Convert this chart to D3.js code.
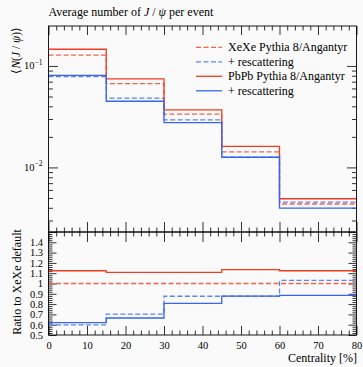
<!DOCTYPE html>
<html><head><meta charset="utf-8">
<script src="https://cdn.jsdelivr.net/npm/d3@7"></script>
<style>
html,body{margin:0;padding:0;background:#fafafa;}
svg{display:block;}
</style></head>
<body>
<svg id="chart" width="363" height="367"></svg>
<script>
// ---- data ----
const binEdges = [0, 15, 30, 45, 60, 80];
const xexeDefault = [0.128, 0.067, 0.0335, 0.0142, 0.00436];
const xexeResc    = [0.0785, 0.0481, 0.0294, 0.0126, 0.00455];
const pbpbDefault = [0.146, 0.0745, 0.0369, 0.0161, 0.00491];
const pbpbResc    = [0.0806, 0.0449, 0.0276, 0.0126, 0.00397];

const ratioXeXeDefault = [1, 1, 1, 1, 1];
const ratioXeXeResc    = [0.598, 0.702, 0.876, 0.876, 1.030];
const ratioPbPbDefault = [1.124, 1.108, 1.108, 1.134, 1.124];
const ratioPbPbResc    = [0.620, 0.665, 0.808, 0.878, 0.884];

const legendLabels = ["XeXe Pythia 8/Angantyr", "+ rescattering", "PbPb Pythia 8/Angantyr", "+ rescattering"];
const xTicks = [0, 10, 20, 30, 40, 50, 60, 70, 80];
const ratioTicks = [0.5, 0.6, 0.7, 0.8, 0.9, 1.0, 1.1, 1.2, 1.3, 1.4, 1.5];
const mainMajor = [0.01, 0.1];
const mainRange = [0.00231, 0.2475];
const ratioRange = [0.5, 1.5];

// ---- layout ----
const RED = "#ef3c22", BLUE = "#3565f2";
const RED_D = "#f2614a", BLUE_D = "#5a84f6";
const ff = "'Liberation Serif','Times New Roman',serif";
const xL = 48.5, xR = 356.5, yTop = 26, yMid = 232, yBot = 335;

const svg = d3.select("#chart");
svg.append("rect").attr("width", 363).attr("height", 367).attr("fill", "#fafafa");

const x = d3.scaleLinear().domain([0, 80]).range([xL, xR]);
const yMain = d3.scaleLog().domain(mainRange).range([yMid, yTop]);
const yRatio = d3.scaleLinear().domain(ratioRange).range([yBot, yMid]);

const defs = svg.append("defs");
defs.append("clipPath").attr("id", "cm").append("rect").attr("x", xL).attr("y", yTop).attr("width", xR - xL).attr("height", yMid - yTop);
defs.append("clipPath").attr("id", "cr").append("rect").attr("x", xL).attr("y", yMid).attr("width", xR - xL).attr("height", yBot - yMid);

const xMinor = d3.range(0, 81, 2).filter(v => v % 10 !== 0);
const logMinor = [];
[0.001, 0.01].forEach(d => { for (let k = 2; k <= 9; k++) { const v = k * d; if (v > mainRange[0] && v < 0.1) logMinor.push(v); } });
const ratioMinor = d3.range(0.5, 1.5001, 0.02).map(v => +v.toFixed(2)).filter(v => Math.abs(v * 10 - Math.round(v * 10)) > 1e-6);

function styleAxis(g) {
  g.select(".domain").remove();
  g.selectAll(".tick line").attr("stroke", "#000").attr("stroke-width", 0.8);
  g.selectAll("text").attr("font-family", ff).attr("fill", "#000");
}
function addAxis(axisFn, scale, vals, size, tx, ty, fmt) {
  const a = axisFn(scale).tickValues(vals).tickSize(size).tickPadding(5).tickFormat(fmt || (() => ""));
  const g = svg.append("g").attr("transform", `translate(${tx},${ty})`).call(a);
  styleAxis(g);
  return g;
}

// ---- main panel ticks ----
addAxis(d3.axisTop, x, xTicks, -9, 0, yTop);
addAxis(d3.axisTop, x, xMinor, -4.5, 0, yTop);
addAxis(d3.axisBottom, x, xTicks, -10, 0, yMid);
addAxis(d3.axisBottom, x, xMinor, -4.5, 0, yMid);
addAxis(d3.axisLeft, yMain, mainMajor, -9.5, xL, 0);
addAxis(d3.axisLeft, yMain, logMinor, -4.5, xL, 0);
addAxis(d3.axisRight, yMain, mainMajor, -9.5, xR, 0);
addAxis(d3.axisRight, yMain, logMinor, -4.5, xR, 0);
mainMajor.forEach(v => {
  const t = svg.append("text").attr("x", xL - 6).attr("y", yMain(v) + 3.5)
    .attr("text-anchor", "end").attr("font-family", ff).attr("font-size", 10.5);
  t.append("tspan").text("10");
  t.append("tspan").attr("font-size", 7.5).attr("dy", -4.5).text("\u2212" + Math.round(-Math.log10(v)));
});

// ---- ratio panel ticks ----
addAxis(d3.axisTop, x, xTicks, -10, 0, yMid);
addAxis(d3.axisTop, x, xMinor, -4.5, 0, yMid);
addAxis(d3.axisBottom, x, xTicks, -9, 0, yBot, d => d).selectAll("text")
  .attr("font-size", 10.5).attr("dy", null).attr("y", 13.5);
addAxis(d3.axisBottom, x, xMinor, -4.5, 0, yBot);
addAxis(d3.axisLeft, yRatio, ratioTicks, -8, xL, 0, d => d === 1.5 ? "" : (Math.abs(d - 1) < 1e-9 ? "1" : d.toFixed(1)))
  .selectAll("text").attr("font-size", 10.5).attr("x", -5.5);
addAxis(d3.axisLeft, yRatio, ratioMinor, -4, xL, 0);
addAxis(d3.axisRight, yRatio, ratioTicks, -8, xR, 0);
addAxis(d3.axisRight, yRatio, ratioMinor, -4, xR, 0);

// ---- histograms ----
function stepPts(vals) { return binEdges.map((e, i) => [e, vals[Math.min(i, vals.length - 1)]]); }
const series = [
  { main: xexeDefault, ratio: ratioXeXeDefault, color: RED_D, dash: "5,2.5" },
  { main: xexeResc, ratio: ratioXeXeResc, color: BLUE_D, dash: "5,2.5" },
  { main: pbpbDefault, ratio: ratioPbPbDefault, color: RED, dash: null },
  { main: pbpbResc, ratio: ratioPbPbResc, color: BLUE, dash: null },
];
const gMainPlot = svg.append("g").attr("clip-path", "url(#cm)");
const gRatioPlot = svg.append("g").attr("clip-path", "url(#cr)");
const lineMain = d3.line().x(d => x(d[0])).y(d => yMain(d[1])).curve(d3.curveStepAfter);
const lineRatio = d3.line().x(d => x(d[0])).y(d => yRatio(d[1])).curve(d3.curveStepAfter);
series.forEach(s => {
  gMainPlot.append("path").attr("d", lineMain(stepPts(s.main))).attr("fill", "none")
    .attr("stroke", s.color).attr("stroke-width", 1.3).attr("stroke-dasharray", s.dash);
  gRatioPlot.append("path").attr("d", lineRatio(stepPts(s.ratio))).attr("fill", "none")
    .attr("stroke", s.color).attr("stroke-width", 1.3).attr("stroke-dasharray", s.dash);
});

svg.append("rect").attr("x", xL).attr("y", yTop).attr("width", xR - xL).attr("height", yMid - yTop)
  .attr("fill", "none").attr("stroke", "#000").attr("stroke-width", 0.9);
svg.append("rect").attr("x", xL).attr("y", yMid).attr("width", xR - xL).attr("height", yBot - yMid)
  .attr("fill", "none").attr("stroke", "#000").attr("stroke-width", 0.9);

// ---- legend ----
legendLabels.forEach((lab, i) => {
  const s = series[i];
  const yy = 47.3 + i * 14.5;
  svg.append("line").attr("x1", 196).attr("x2", 222).attr("y1", yy).attr("y2", yy)
    .attr("stroke", s.color).attr("stroke-width", 1.3).attr("stroke-dasharray", s.dash);
  svg.append("text").attr("x", 228).attr("y", yy + 4).attr("font-family", ff).attr("font-size", 12).text(lab);
});

// ---- texts ----
const title = svg.append("text").attr("x", xL).attr("y", 16).attr("font-family", ff).attr("font-size", 12);
title.append("tspan").text("Average number of ");
title.append("tspan").attr("font-style", "italic").text("J");
title.append("tspan").text(" / ");
title.append("tspan").attr("font-style", "italic").text("\u03c8");
title.append("tspan").text(" per event");

const yl = svg.append("text").attr("transform", `translate(19.5,27) rotate(-90)`).attr("text-anchor", "end")
  .attr("font-family", ff).attr("font-size", 11.5);
yl.append("tspan").text("\u27e8");
yl.append("tspan").attr("font-style", "italic").text("N");
yl.append("tspan").text("(");
yl.append("tspan").attr("font-style", "italic").text("J");
yl.append("tspan").text(" / ");
yl.append("tspan").attr("font-style", "italic").text("\u03c8");
yl.append("tspan").text(")\u27e9");

svg.append("text").attr("transform", `translate(21,282) rotate(-90)`).attr("text-anchor", "middle")
  .attr("font-family", ff).attr("font-size", 12).text("Ratio to XeXe default");

svg.append("text").attr("x", 357).attr("y", 362).attr("text-anchor", "end")
  .attr("font-family", ff).attr("font-size", 12).text("Centrality [%]");
</script>
</body></html>
